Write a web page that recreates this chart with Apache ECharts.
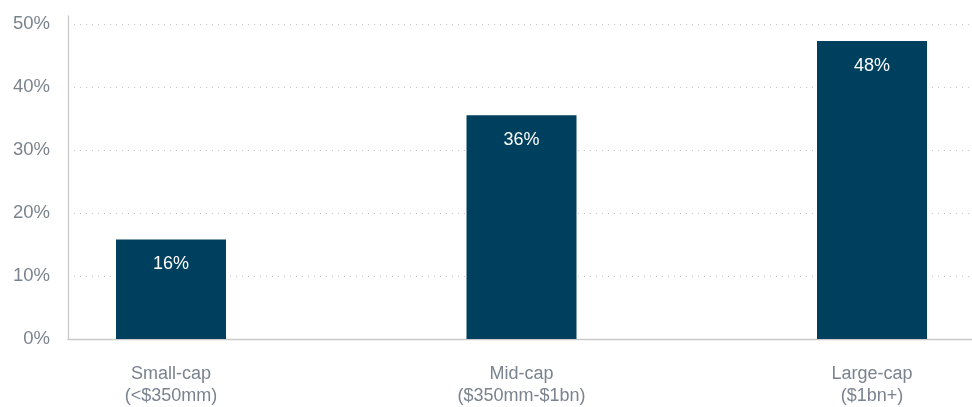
<!DOCTYPE html>
<html>
<head>
<meta charset="utf-8">
<script src="https://cdn.jsdelivr.net/npm/echarts@6/dist/echarts.min.js"></script>
<style>
html,body{margin:0;padding:0;background:#fff;}
#chart{width:972px;height:407px;}
</style>
</head>
<body>
<div id="chart"></div>
<script>
const categories = ['Small-cap\n(<$350mm)', 'Mid-cap\n($350mm-$1bn)', 'Large-cap\n($1bn+)'];
const shareValues = [15.8, 35.5, 47.3];
const barLabels = ['16%', '36%', '48%'];
const yTickValues = [0, 10, 20, 30, 40, 50];

const chart = echarts.init(document.getElementById('chart'));
const font = "'Liberation Sans', Arial, Helvetica, sans-serif";
const positions = categories.map((c, i) => i);

chart.setOption({
  animation: false,
  backgroundColor: '#ffffff',
  grid: { left: 68, right: 0, top: 16, bottom: 66, containLabel: false },
  xAxis: {
    type: 'value',
    min: -0.2939,
    max: 2.2853,
    axisLine: { show: true, onZero: false, lineStyle: { color: '#c9c9c9', width: 1.3 } },
    axisTick: { show: false },
    splitLine: { show: false },
    axisLabel: {
      customValues: positions,
      formatter: function (v) { return categories[Math.round(v)] || ''; },
      color: '#7a838e',
      fontSize: 18,
      fontFamily: font,
      lineHeight: 22,
      margin: 24,
      align: 'center'
    }
  },
  yAxis: {
    type: 'value',
    min: 0,
    max: 51.25,
    interval: 10,
    axisLine: { show: true, onZero: false, lineStyle: { color: '#c9c9c9', width: 1.3 } },
    axisTick: { show: false },
    splitLine: { show: true, showMinLine: false, showMaxLine: false, lineStyle: { color: '#c4c4c4', type: [1, 5], width: 1 } },
    axisLabel: {
      formatter: function (v) { return yTickValues.indexOf(v) >= 0 ? v + '%' : ''; },
      color: '#7a838e',
      fontSize: 18.5,
      fontFamily: font,
      margin: 18
    }
  },
  series: [{
    type: 'bar',
    barWidth: 110,
    data: shareValues.map((v, i) => [positions[i], v]),
    itemStyle: { color: '#00405f' },
    label: {
      show: true,
      position: 'insideTop',
      distance: 16,
      formatter: function (p) { return barLabels[p.dataIndex]; },
      color: '#ffffff',
      fontSize: 18,
      fontFamily: font
    }
  }]
});
</script>
</body>
</html>
